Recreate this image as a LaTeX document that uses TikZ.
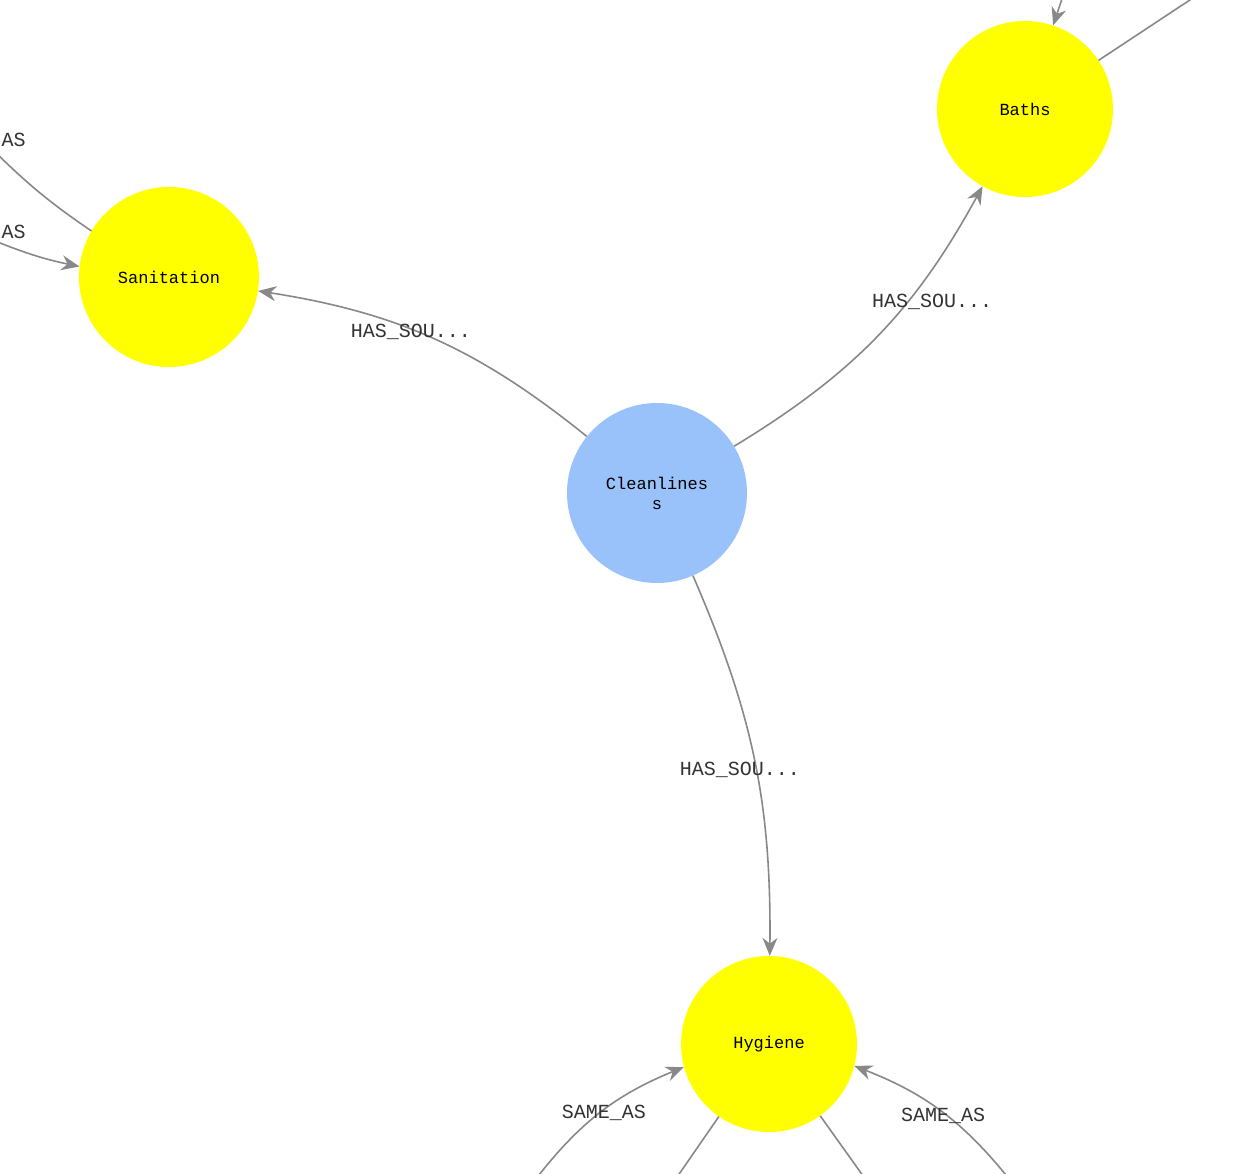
\documentclass[tikz,border=0pt]{standalone}
\usepackage{fontspec}
\setmonofont{Liberation Mono}
\usepackage{tikz}
\usetikzlibrary{arrows.meta}
\definecolor{linkgray}{HTML}{888888}
\definecolor{textgray}{HTML}{333333}
\definecolor{topicblue}{HTML}{99C2FA}
\definecolor{sourceyellow}{HTML}{FFFF00}
\tikzset{
  topic/.style={circle,fill=topicblue,minimum size=180pt,inner sep=0pt,align=center,font=\ttfamily\fontsize{17}{20}\selectfont},
  source/.style={circle,fill=sourceyellow,minimum size=176pt,inner sep=0pt,font=\ttfamily\fontsize{17}{20}\selectfont},
  link/.style={linkgray,line width=1.6pt,-{Stealth[length=18pt,width=15pt]}},
  plainlink/.style={linkgray,line width=1.6pt},
  linklabel/.style={textgray,font=\ttfamily\fontsize{20}{24}\selectfont}
}
\begin{document}
\begin{tikzpicture}[x=1pt,y=-1pt]
\useasboundingbox (0,0) rectangle (1237,1174);

\node[topic] (clean) at (657,493) {Cleanlines\\s};
\node[source,minimum size=180pt] (sanit) at (169,277) {Sanitation};
\node[source] (baths) at (1025,109) {Baths};
\node[source] (hyg) at (769,1044) {Hygiene};

% free ends outside the frame
\coordinate (sanitA) at (-5,152);
\coordinate (sanitB) at (-5,241);
\coordinate (bathsA) at (1065,-10);
\coordinate (bathsB) at (1205,-10);
\coordinate (hygA) at (535,1180);
\coordinate (hygB) at (675,1180);
\coordinate (hygC) at (866,1180);
\coordinate (hygD) at (1010,1180);

\draw[link] (clean) to[bend right=15] (sanit);
\draw[link] (clean) to[bend right=15] (baths);
\draw[link] (clean) to[bend left=12] (hyg);

\draw[plainlink] (sanit) to[bend left=5] (sanitA);
\draw[link] (sanitB) to[bend right=5] (sanit);
\draw[link] (bathsA) -- (baths);
\draw[plainlink] (baths) -- (bathsB);
\draw[link] (hygA) to[bend left=15] (hyg);
\draw[plainlink] (hyg) -- (hygB);
\draw[plainlink] (hyg) -- (hygC);
\draw[link] (hygD) to[bend right=15] (hyg);

\node[linklabel] (l1) at (411,332) {HAS\_SOU...};
\node[linklabel] (l2) at (932,302) {HAS\_SOU...};
\node[linklabel] (l3) at (740,770) {HAS\_SOU...};
\node[linklabel,anchor=west] (l4) at (-2,140) {AS};
\node[linklabel,anchor=west] (l5) at (-2,232) {AS};
\node[linklabel] (l6) at (604,1113) {SAME\_AS};
\node[linklabel] (l7) at (943,1116) {SAME\_AS};
\end{tikzpicture}
\end{document}
